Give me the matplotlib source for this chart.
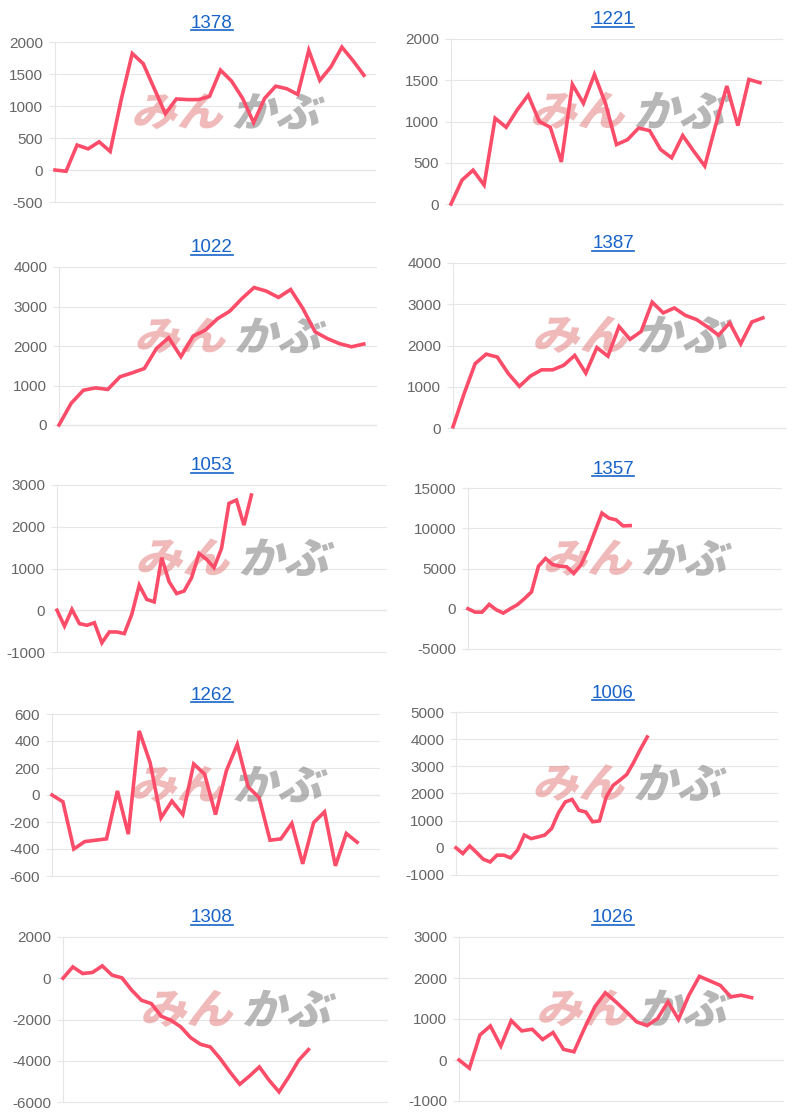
import math
import matplotlib
matplotlib.use('Agg')
import matplotlib.pyplot as plt
from matplotlib.textpath import TextPath
from matplotlib.patches import PathPatch
from matplotlib.font_manager import FontProperties
from matplotlib.transforms import Affine2D
from matplotlib.ticker import FuncFormatter
from matplotlib.lines import Line2D

plt.rcParams['font.family'] = ['Liberation Sans', 'DejaVu Sans']
plt.rcParams['axes.unicode_minus'] = False

W, H = 800, 1118
fig = plt.figure(figsize=(W / 100, H / 100), dpi=100)

# ---------------- data ----------------
codes = ['1378', '1221', '1022', '1387', '1053', '1357', '1262', '1006', '1308', '1026']

s1378 = [0, -20, 390, 330, 440, 290, 1100, 1820, 1660, 1270, 880, 1110, 1100, 1100, 1150,
         1560, 1390, 1120, 740, 1120, 1310, 1270, 1180, 1870, 1400, 1610, 1920, 1710, 1480]
s1221 = [0, 290, 410, 230, 1040, 930, 1140, 1320, 1000, 930, 510, 1450, 1220, 1570, 1220,
         720, 780, 920, 890, 660, 560, 830, 640, 460, 960, 1430, 950, 1510, 1470]
s1022 = [0, 550, 880, 940, 900, 1220, 1320, 1430, 1940, 2210, 1730, 2250, 2400, 2690, 2880,
         3200, 3480, 3390, 3230, 3430, 2950, 2360, 2190, 2060, 1980, 2050]
s1387 = [30, 830, 1560, 1790, 1720, 1320, 1010, 1260, 1410, 1410, 1520, 1760, 1330, 1950, 1740,
         2460, 2150, 2340, 3050, 2790, 2910, 2730, 2630, 2450, 2250, 2550, 2040, 2570, 2670]
s1053 = [0, -380, 20, -320, -360, -300, -780, -520, -520, -560, -100, 600, 260, 200, 1260,
         680, 400, 460, 780, 1360, 1220, 1020, 1480, 2560, 2640, 2040, 2760]
s1357 = [0, -420, -420, 540, -120, -540, 0, 500, 1250, 2080, 5290, 6250, 5500, 5290, 5210,
         4380, 5420, 7290, 9580, 11880, 11250, 11040, 10290, 10330]
s1262 = [0, -50, -400, -345, -335, -325, 30, -290, 475, 240, -170, -45, -145, 230, 155,
         -145, 180, 375, 60, -20, -335, -325, -210, -510, -205, -125, -525, -285, -350]
s1006 = [0, -210, 70, -170, -420, -520, -270, -270, -370, -90, 470, 340, 400, 470, 710,
         1290, 1690, 1780, 1380, 1320, 960, 990, 1870, 2300, 2490, 2700, 3140, 3630, 4080]
s1308 = [0, 550, 230, 280, 600, 150, 20, -580, -1070, -1230, -1840, -2040, -2360, -2880,
         -3200, -3330, -3890, -4540, -5140, -4740, -4300, -4950, -5510, -4780, -3980, -3460]
s1026 = [0, -200, 610, 830, 340, 960, 710, 750, 500, 670, 260, 200, 770, 1300, 1640,
         1420, 1180, 930, 840, 1010, 1420, 990, 1580, 2040, 1930, 1820, 1540, 1580, 1520]

series = [s1378, s1221, s1022, s1387, s1053, s1357, s1262, s1006, s1308, s1026]

# number of category slots on the x axis of each chart
x_slots = [29, 30, 26, 30, 44, 44.4, 30, 47, 33, 31]

# y axis: (min, max, step)
y_min = [-500, 0, 0, 0, -1000, -5000, -600, -1000, -6000, -1000]
y_max = [2000, 2000, 4000, 4000, 3000, 15000, 600, 5000, 2000, 3000]
y_step = [500, 500, 1000, 1000, 1000, 5000, 200, 1000, 2000, 1000]

# ---------------- layout (pixels: left, top, right, bottom) ----------------
rects = [(55, 42, 375, 202), (451, 39, 782, 204),
         (59, 267, 376, 425), (453, 263, 785, 428),
         (57, 485, 386, 652), (468, 488, 781, 649),
         (52, 714, 379, 876), (456, 712, 777, 875),
         (63, 937, 387, 1102), (459, 937, 783, 1101)]
title_x = [212, 613]

LINE = '#fb4d69'
GRID = '#e6e6e6'
ZERO = '#c4c4c4'
TITLE = '#1763c9'

fp_wm = FontProperties(family='Noto Sans CJK JP', weight='black')
pix = Affine2D().scale(1.0 / W, 1.0 / H) + fig.transFigure


def add_wm(ax, rect, text, fx0, fx1, color, alpha):
    l, t, r, b = rect
    X0 = l + fx0 * (r - l)
    X1 = l + fx1 * (r - l)
    ytop = b - 0.68 * (b - t)
    ybot = b - 0.455 * (b - t)
    Yb = H - ybot
    h = ybot - ytop
    skew = 14
    w_ns = (X1 - X0) - h * math.tan(math.radians(skew))
    tp = TextPath((0, 0), text, size=100, prop=fp_wm)
    ext = tp.get_extents()
    tr = (Affine2D().translate(-ext.x0, -ext.y0)
          .scale(w_ns / ext.width, h / ext.height)
          .skew_deg(skew, 0).translate(X0, Yb)) + pix
    p = PathPatch(tp, transform=tr, facecolor=color, edgecolor='none',
                  alpha=alpha, zorder=1.8, clip_on=False)
    ax.add_patch(p)


titles = []
for i, (code, vals) in enumerate(zip(codes, series)):
    l, t, r, b = rects[i]
    ax = fig.add_axes([l / W, 1 - b / H, (r - l) / W, (b - t) / H])
    ax.set_xlim(0, x_slots[i])
    ax.set_ylim(y_min[i], y_max[i])
    ticks = list(range(y_min[i], y_max[i] + 1, y_step[i]))
    ax.set_yticks(ticks)
    ax.yaxis.set_major_formatter(FuncFormatter(lambda v, p: '%d' % v))
    ax.set_xticks([])
    for s in ['top', 'right', 'bottom']:
        ax.spines[s].set_visible(False)
    ax.spines['left'].set_color(GRID)
    ax.spines['left'].set_linewidth(0.8)
    ax.grid(axis='y', color=GRID, linewidth=0.8, zorder=0.5)
    for gl in ax.get_ygridlines():
        gl.set_clip_on(False)
    ax.axhline(0, color=ZERO, linewidth=0.8, zorder=0.6, clip_on=False)
    ax.tick_params(axis='y', length=4, width=0.8, color=GRID, pad=4.5,
                   labelsize=11, labelcolor='#666666')
    ax.set_facecolor('none')

    add_wm(ax, rects[i], 'みん', 0.24, 0.545, '#e07070', 0.48)
    add_wm(ax, rects[i], 'かぶ', 0.555, 0.85, '#707070', 0.5)

    ax.plot(range(len(vals)), vals, color=LINE, linewidth=2.6,
            solid_joinstyle='miter', zorder=3, clip_on=False)

    tx = title_x[i % 2]
    ty = H - (t - 14.5)
    tt = fig.text(tx / W, ty / H, code, ha='center', va='baseline',
                  fontsize=13.5, color=TITLE)
    titles.append((tt, ty))

fig.canvas.draw()
rend = fig.canvas.get_renderer()
for tt, ty in titles:
    bb = tt.get_window_extent(rend)
    yu = ty - 2.2
    fig.add_artist(Line2D([bb.x0 / W, bb.x1 / W], [yu / H, yu / H],
                          transform=fig.transFigure, color=TITLE, linewidth=1.2))

fig.savefig('out.png', dpi=100)
